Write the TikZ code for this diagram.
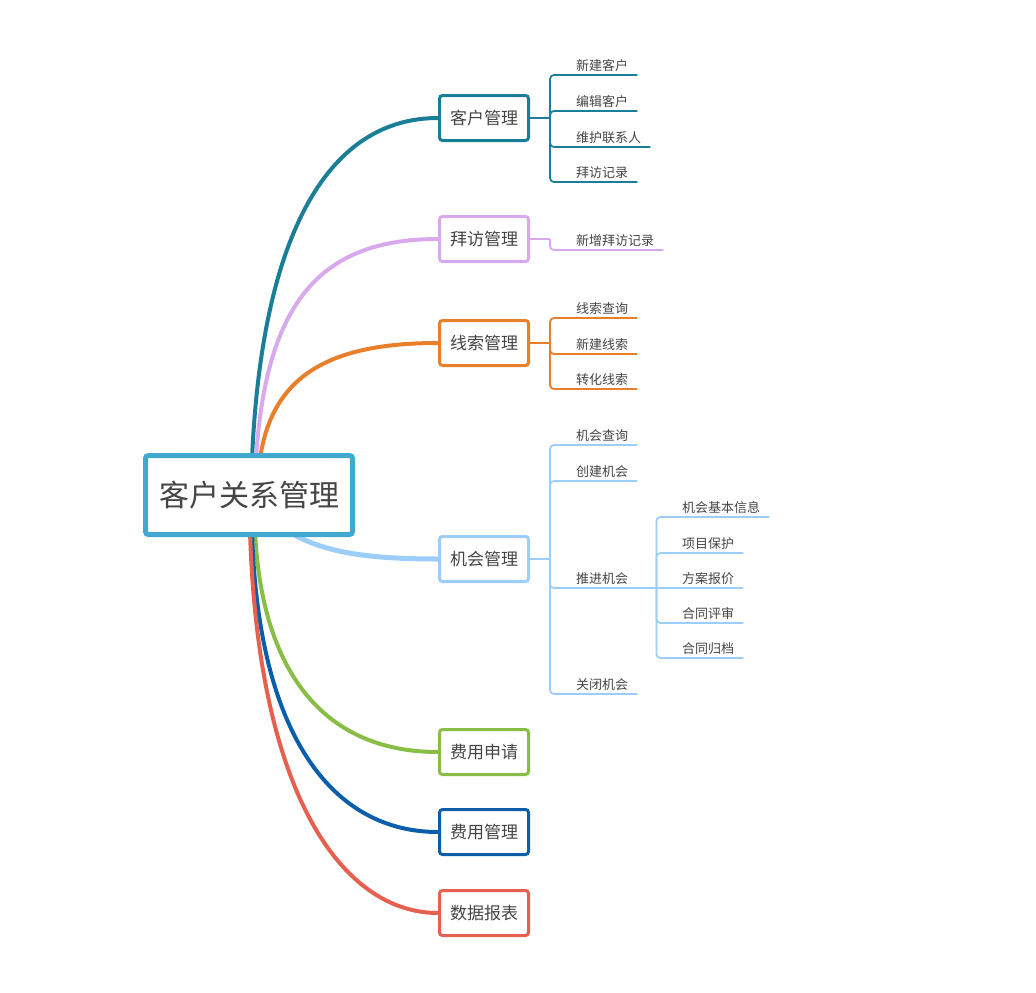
\documentclass[tikz,border=0pt]{standalone}
\usepackage{fontspec}
\setmainfont{Noto Sans CJK SC}
\usetikzlibrary{backgrounds}
\definecolor{rootblue}{HTML}{41A9D0}
\definecolor{khteal}{HTML}{1A7F96}
\definecolor{bflilac}{HTML}{D9A9EE}
\definecolor{xsorange}{HTML}{EA7F2B}
\definecolor{jhblue}{HTML}{9DCEFB}
\definecolor{fygreen}{HTML}{88BE45}
\definecolor{fgblue}{HTML}{0B5FAA}
\definecolor{sjred}{HTML}{E5604F}
\definecolor{textgray}{HTML}{454545}
\tikzset{
  root/.style={draw=rootblue, fill=white, line width=5pt, rounded corners=3pt,
    minimum width=207pt, minimum height=79pt, inner sep=0pt,
    font=\fontsize{30}{30}\selectfont, text=textgray},
  topic/.style={draw, fill=white, line width=3pt, rounded corners=3pt,
    minimum width=89pt, minimum height=45pt, inner sep=0pt,
    font=\fontsize{17}{17}\selectfont, text=textgray},
  leaf/.style={anchor=south west, inner xsep=9pt, inner ysep=3pt,
    font=\fontsize{13}{13}\selectfont, text=textgray},
  branch/.style={line width=4pt},
  twig/.style={line width=1.8pt, rounded corners=4pt},
}
\begin{document}
\begin{tikzpicture}[x=1pt,y=-1pt]
  \useasboundingbox (0,0) rectangle (1036,993);

  \node[root] (crm) at (249,495) {客户关系管理};

  \node[topic, draw=khteal] (kh) at (484,118) {客户管理};
  \node[topic, draw=bflilac] (bf) at (484,239) {拜访管理};
  \node[topic, draw=xsorange] (xs) at (484,343) {线索管理};
  \node[topic, draw=jhblue] (jh) at (484,559) {机会管理};
  \node[topic, draw=fygreen] (fy) at (484,752) {费用申请};
  \node[topic, draw=fgblue] (fg) at (484,832) {费用管理};
  \node[topic, draw=sjred] (sj) at (484,913) {数据报表};

  % leaves
  \node[leaf] (kh1) at (567,75) {新建客户};
  \node[leaf] (kh2) at (567,111) {编辑客户};
  \node[leaf] (kh3) at (567,147) {维护联系人};
  \node[leaf] (kh4) at (567,182) {拜访记录};
  \node[leaf] (bf1) at (567,250) {新增拜访记录};
  \node[leaf] (xs1) at (567,318) {线索查询};
  \node[leaf] (xs2) at (567,354) {新建线索};
  \node[leaf] (xs3) at (567,389) {转化线索};
  \node[leaf] (jh1) at (567,445) {机会查询};
  \node[leaf] (jh2) at (567,481) {创建机会};
  \node[leaf] (jh3) at (567,588) {推进机会};
  \node[leaf] (jh4) at (567,694) {关闭机会};
  \node[leaf] (tj1) at (673,517) {机会基本信息};
  \node[leaf] (tj2) at (673,553) {项目保护};
  \node[leaf] (tj3) at (673,588) {方案报价};
  \node[leaf] (tj4) at (673,623) {合同评审};
  \node[leaf] (tj5) at (673,658) {合同归档};

  \begin{scope}[on background layer]
    \draw[branch, khteal] ([xshift=3pt,yshift=-6pt]crm.north) .. controls (262,230) and (330,118) .. (kh.west);
    \draw[branch, bflilac] ([xshift=7pt,yshift=-6pt]crm.north) .. controls (266,300) and (322,239) .. (bf.west);
    \draw[branch, xsorange] ([xshift=11pt,yshift=-6pt]crm.north) .. controls (272,375) and (330,343) .. (xs.west);
    \draw[branch, jhblue, line width=5pt] ([xshift=-70pt,yshift=8pt]crm.south east) .. controls (320,553) and (370,559) .. (jh.west);
    \draw[branch, fygreen] ([xshift=6pt,yshift=6pt]crm.south) .. controls (262,680) and (330,752) .. (fy.west);
    \draw[branch, fgblue] ([xshift=3pt,yshift=6pt]crm.south) .. controls (258,740) and (335,832) .. (fg.west);
    \draw[branch, sjred] ([xshift=1pt,yshift=6pt]crm.south) .. controls (258,800) and (345,913) .. (sj.west);
  \end{scope}

  \draw[twig, khteal] (kh.east) -- ++(20,0) coordinate (khj);
  \foreach \n in {kh1,kh2,kh3,kh4} \draw[twig, khteal] (khj) |- (\n.south east);
  \draw[twig, bflilac] (bf.east) -- ++(20,0) coordinate (bfj);
  \draw[twig, bflilac] (bfj) |- (bf1.south east);
  \draw[twig, xsorange] (xs.east) -- ++(20,0) coordinate (xsj);
  \foreach \n in {xs1,xs2,xs3} \draw[twig, xsorange] (xsj) |- (\n.south east);
  \draw[twig, jhblue] (jh.east) -- ++(20,0) coordinate (jhj);
  \foreach \n in {jh1,jh2,jh3,jh4} \draw[twig, jhblue] (jhj) |- (\n.south east);
  \draw[twig, jhblue] (jh3.south east) -- ++(19,0) coordinate (tjj);
  \foreach \n in {tj1,tj2,tj4,tj5} \draw[twig, jhblue] (tjj) |- (\n.south east);
  \draw[twig, jhblue] (tjj) -- (tj3.south east);
\end{tikzpicture}
\end{document}
